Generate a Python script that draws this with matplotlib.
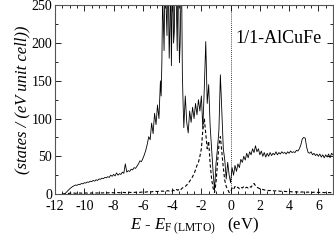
import numpy as np
import matplotlib
matplotlib.use("Agg")
import matplotlib.pyplot as plt
from matplotlib.ticker import MultipleLocator

plt.rcParams['font.family'] = ['Liberation Serif', 'DejaVu Serif']
plt.rcParams['mathtext.fontset'] = 'custom'
plt.rcParams['mathtext.rm'] = 'Liberation Serif'
plt.rcParams['mathtext.it'] = 'Liberation Serif:italic'
plt.rcParams['axes.unicode_minus'] = False

# energy grid (eV), 0.1 eV steps from -11.5 to 7.0
energy = np.round(np.arange(-11.5, 7.01, 0.1), 2)

# total DOS (solid)
total_dos = [
    0, 0, 1, 3, 5, 7, 8.5, 10, 11, 12,                # -11.5 .. -10.6
    11.5, 13, 12.5, 14, 13.5, 15, 14.5, 16, 15.5, 17,  # -10.5 .. -9.6
    16.5, 18, 17, 19, 18, 20, 19.5, 21, 20.5, 22,      # -9.5 .. -8.6
    21.5, 23, 22, 25, 23.5, 26, 24, 28, 25, 27,        # -8.5 .. -7.6
    26, 29, 27.5, 40, 29, 31, 30, 33, 32, 35,          # -7.5 .. -6.6
    34, 37, 40, 44, 43, 47, 52, 58, 66, 76,            # -6.5 .. -5.6
    72, 94, 80, 107, 92, 118, 100, 150, 175, 230,      # -5.5 .. -4.6
    270, 240, 290, 180, 300, 250, 200, 280, 240, 300,  # -4.5 .. -3.6
    174, 260, 160, 88, 130, 95, 81, 110, 95, 115,      # -3.5 .. -2.6
    100, 120, 105, 125, 110, 130, 87, 140, 202, 120,   # -2.5 .. -1.6
    145, 90, 60, 30, 5, 40, 60, 85, 158, 110,          # -1.5 .. -0.6
    60, 45, 20, 42, 25, 15, 35, 25, 38, 30,            # -0.5 .. 0.4
    40, 35, 46, 42, 50, 45, 54, 48, 56, 52,            # 0.5 .. 1.4
    60, 55, 64, 56, 60, 52, 57, 50, 55, 49,            # 1.5 .. 2.4
    54, 50, 55, 51, 54, 52, 56, 52, 55, 53,            # 2.5 .. 3.4
    56, 54, 55, 53, 56, 54, 57, 55, 56, 55,            # 3.5 .. 4.4
    58, 57, 60, 65, 73, 75, 74, 62, 55, 54,            # 4.5 .. 5.4
    56, 52, 54, 51, 53, 50, 53, 49, 52, 48,            # 5.5 .. 6.4
    52, 49, 53, 48, 54, 52,                            # 6.5 .. 7.0
]

# extra total DOS samples in the dense peak region (midpoints of the grid)
dense_energy = np.round(np.arange(-4.75, -3.24, 0.1), 2)
dense_total = [130, 260, 190, 300, 210, 260, 220, 170,
               290, 215, 300, 190, 250, 200, 280, 120]

# partial DOS (dashed)
partial_dos = [
    0, 0, 0.3, 0.5, 0.8, 1, 1.2, 1, 1.3, 1,            # -11.5 .. -10.6
    1.2, 1, 1.4, 1.1, 1.3, 1, 1.5, 1.2, 1.4, 1.1,      # -10.5 .. -9.6
    1.5, 1.2, 1.6, 1.3, 1.5, 1.2, 1.7, 1.4, 1.6, 1.3,  # -9.5 .. -8.6
    1.8, 1.5, 1.7, 1.4, 1.9, 1.6, 1.8, 1.5, 2, 1.7,    # -8.5 .. -7.6
    2, 1.7, 2.2, 1.8, 2.1, 1.9, 2.3, 2, 2.2, 2.1,      # -7.5 .. -6.6
    2.4, 2.1, 2.5, 2.2, 2.6, 2.4, 2.8, 2.5, 3, 2.7,    # -6.5 .. -5.6
    3.2, 2.8, 3.4, 3, 3.5, 3.2, 3.8, 3.4, 4, 3.6,      # -5.5 .. -4.6
    4.2, 3.8, 4.5, 4, 4.6, 4, 5, 4, 6, 5,              # -4.5 .. -3.6
    7, 6, 8, 9, 10, 12, 14, 17, 20, 23,                # -3.5 .. -2.6
    27, 32, 38, 42, 50, 60, 85, 100, 80, 60,           # -2.5 .. -1.6
    70, 40, 20, 8, 2, 15, 40, 65, 76, 55,              # -1.5 .. -0.6
    35, 18, 10, 6, 2, 3, 8, 6, 10, 8,                  # -0.5 .. 0.4
    9, 7, 9, 8, 10, 8, 9, 8, 10, 9,                    # 0.5 .. 1.4
    12, 14, 11, 9, 8, 7, 6.5, 6, 5.5, 5,               # 1.5 .. 2.4
    5, 4.5, 4.8, 4.2, 4.5, 4, 4.3, 3.8, 4, 3.6,        # 2.5 .. 3.4
    3.8, 3.4, 3.6, 3.2, 3.4, 3, 3.2, 2.9, 3.1, 2.8,    # 3.5 .. 4.4
    3, 2.7, 2.9, 2.6, 2.8, 2.5, 2.7, 2.4, 2.6, 2.3,    # 4.5 .. 5.4
    2.5, 2.2, 2.4, 2.1, 2.3, 2, 2.2, 2, 2.1, 1.9,      # 5.5 .. 6.4
    2.1, 1.9, 2, 1.8, 2, 1.9,                          # 6.5 .. 7.0
]

tot_e = np.concatenate([energy, dense_energy])
tot_v = np.concatenate([total_dos, dense_total])
order = np.argsort(tot_e)
tot_e, tot_v = tot_e[order], tot_v[order]

fig = plt.figure(figsize=(3.34, 2.45), dpi=100)
ax = fig.add_axes([0.165, 0.208, 0.832, 0.77])

ax.plot(tot_e, tot_v, color='black', lw=0.6)
ax.plot(energy, partial_dos, color='black', lw=0.8, ls=(0, (3, 2)))
ax.axvline(0, color='black', lw=0.6, ls=(0, (1, 1.5)))

ax.set_xlim(-12, 7)
ax.set_ylim(0, 250)
ax.xaxis.set_major_locator(MultipleLocator(2))
ax.xaxis.set_minor_locator(MultipleLocator(0.5))
ax.yaxis.set_major_locator(MultipleLocator(50))
ax.yaxis.set_minor_locator(MultipleLocator(25))
ax.tick_params(which='both', direction='in', top=True, right=True, labelsize=10, width=0.6)
ax.tick_params(axis='x', which='major', length=4, pad=4.5)
ax.tick_params(axis='y', which='major', length=4, pad=2)
ax.tick_params(which='minor', length=2)
for s in ax.spines.values():
    s.set_linewidth(0.8)
    s.set_color('#555555')

ax.set_ylabel('(states / (eV unit cell))', fontsize=12, style='italic', labelpad=1)
ax.set_xlabel(r'$\it{E}$ - $\it{E}_{\rm F\ (LMTO)}$   (eV)', fontsize=12, labelpad=2)
ax.text(0.96, 0.825, '1/1-AlCuFe', transform=ax.transAxes, ha='right', va='center', fontsize=13)

fig.savefig('out.png', dpi=100)
